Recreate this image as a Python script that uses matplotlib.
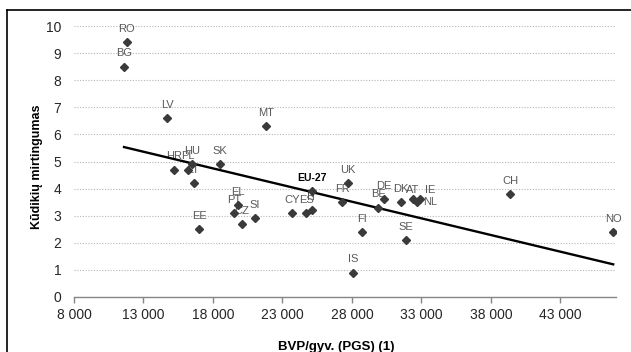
import matplotlib
matplotlib.use("Agg")
import matplotlib.pyplot as plt
from matplotlib.lines import Line2D
from matplotlib.ticker import FuncFormatter
import numpy as np

plt.rcParams['font.family'] = ['Liberation Sans', 'DejaVu Sans']

# BVP/gyv. (PGS) and infant mortality per country
countries = ['RO', 'BG', 'LV', 'MT', 'HR', 'PL', 'HU', 'SK', 'LT', 'EE',
             'EL', 'PT', 'CZ', 'SI', 'CY', 'ES', 'IT', 'UK', 'FR', 'BE',
             'DE', 'DK', 'AT', 'IE', 'NL', 'FI', 'SE', 'IS', 'CH', 'NO']
gdp = [11800, 11600, 14700, 21800, 15200, 16200, 16500, 18500, 16600, 17000,
       19800, 19500, 20100, 21000, 23700, 24700, 25100, 27700, 27300, 29900,
       30300, 31500, 32400, 32900, 32700, 28700, 31900, 28100, 39400, 46800]
mortality = [9.4, 8.5, 6.6, 6.3, 4.7, 4.7, 4.9, 4.9, 4.2, 2.5,
             3.4, 3.1, 2.7, 2.9, 3.1, 3.1, 3.2, 4.2, 3.5, 3.3,
             3.6, 3.5, 3.6, 3.6, 3.5, 2.4, 2.1, 0.9, 3.8, 2.4]
eu_gdp = 25100
eu_mortality = 3.9

x_ticks = [8000, 13000, 18000, 23000, 28000, 33000, 38000, 43000]
y_ticks = list(range(0, 11))

# label offsets in points (default: centred above the marker)
label_offsets = {'AT': (0, 6.5), 'IE': (7, 7), 'NL': (4, 0)}
label_align = {'NL': 'left'}

marker_color = '#3a3a3a'
label_color = '#595959'

fig = plt.figure(figsize=(6.31, 3.52), dpi=100)
ax = fig.add_axes([74 / 631, 1 - 297 / 352, 542 / 631, 271 / 352])

ax.plot(gdp, mortality, linestyle='none', marker='D', ms=4.0,
        color=marker_color, mec=marker_color, zorder=4)
ax.plot([eu_gdp], [eu_mortality], linestyle='none', marker='D', ms=4.0,
        color=marker_color, mec=marker_color, zorder=4)

# linear trend over the countries
slope, intercept = np.polyfit(gdp, mortality, 1)
xs = np.array([min(gdp), max(gdp)])
ax.plot(xs, slope * xs + intercept, color='black', lw=1.7, zorder=3)

for name, x, y in zip(countries, gdp, mortality):
    dx, dy = label_offsets.get(name, (0, 9.5))
    ax.annotate(name, (x, y), xytext=(dx, dy), textcoords='offset points',
                ha=label_align.get(name, 'center'), va='center',
                fontsize=8, color=label_color, zorder=2)
ax.annotate('EU-27', (eu_gdp, eu_mortality), xytext=(0, 9.5),
            textcoords='offset points', ha='center', va='center',
            fontsize=7.5, fontweight='bold', color='black', zorder=2)

ax.set_xlim(8000, 47000)
ax.set_ylim(0, 10)
ax.set_xticks(x_ticks)
ax.set_yticks(y_ticks)
ax.xaxis.set_major_formatter(FuncFormatter(lambda v, p: f"{v:,.0f}".replace(',', ' ')))

ax.grid(axis='y', color='#b5b5b5', linestyle=(0, (1, 1.5)), lw=0.8)
ax.set_axisbelow(True)
for s in ['top', 'right', 'left']:
    ax.spines[s].set_visible(False)
ax.spines['bottom'].set_color('#868686')
ax.spines['bottom'].set_linewidth(1.0)
ax.tick_params(axis='x', length=4, width=1, color='#868686', pad=4,
               labelsize=10, labelcolor='#262626')
ax.tick_params(axis='y', length=0, pad=9, labelsize=10, labelcolor='#262626')

fig.text(37 / 631, 1 - 167 / 352, 'Kūdikių mirtingumas', rotation=90,
         ha='center', va='center', fontsize=9, fontweight='bold')
fig.text(336 / 631, 1 - 347 / 352, 'BVP/gyv. (PGS) (1)',
         ha='center', va='center', fontsize=9.5, fontweight='bold')

# frame of the cropped chart area
top = 1 - 10 / 352
left = 7 / 631
fig.add_artist(Line2D([left, 1], [top, top], color='black', lw=1.2,
                      transform=fig.transFigure))
fig.add_artist(Line2D([left, left], [0, top], color='black', lw=1.2,
                      transform=fig.transFigure))

fig.savefig('out.png', dpi=100)
